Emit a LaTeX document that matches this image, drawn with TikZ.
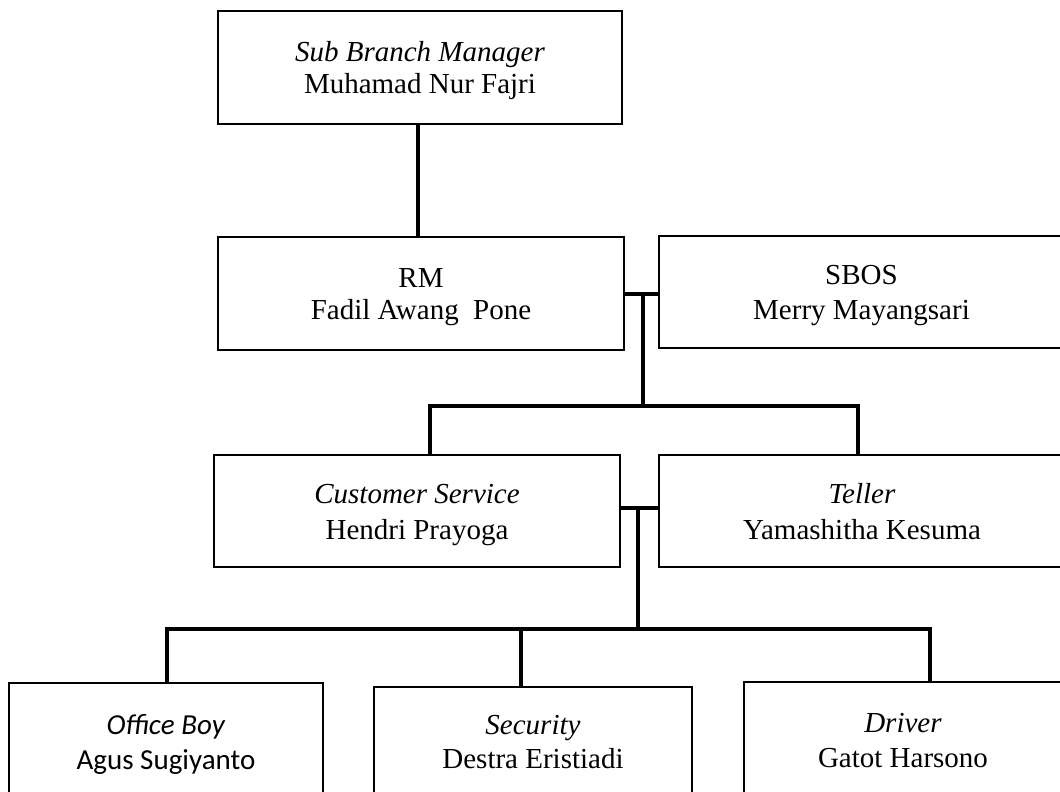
\documentclass[tikz,border=0pt]{standalone}
\usepackage{fontspec}
\setmainfont{Liberation Serif}
\newfontfamily\calibrifont{Carlito}
\newcommand\mytopstrut{\rule{0pt}{28bp}}
\newcommand\mybotstrut{\rule[-8bp]{0pt}{8bp}}
\begin{document}
\begin{tikzpicture}[x=1bp,y=-1bp,
  orgbox/.style={draw=black, line width=2.3bp, rectangle, inner sep=0pt, align=center, fill=white},
  sp/.style={font=\fontsize{29bp}{#1bp}\selectfont},
  conn/.style={draw=black, line width=3.2bp},
  connthick/.style={draw=black, line width=3.8bp}]
\useasboundingbox (0,0) rectangle (1060,792);
\clip (0,0) rectangle (1060,792);
\fill[white] (0,0) rectangle (1060,792);

% boxes
\node[orgbox, sp=32, minimum width=404bp, minimum height=113bp] (sbm) at (420,67.5)
  {\mytopstrut\textit{Sub Branch Manager}\\Muhamad Nur Fajri\mybotstrut};
\node[orgbox, sp=32.5, minimum width=406bp, minimum height=113bp] (rm) at (421,293.5)
  {\mytopstrut RM\\Fadil Awang~ Pone\mybotstrut};
\node[orgbox, sp=34.5, minimum width=405bp, minimum height=112bp] (sbos) at (861.5,292)
  {\mytopstrut SBOS\\Merry Mayangsari\mybotstrut};
\node[orgbox, sp=36, minimum width=406bp, minimum height=112bp] (cs) at (417,511)
  {\mytopstrut\textit{Customer Service}\\Hendri Prayoga\mybotstrut};
\node[orgbox, sp=36, minimum width=406bp, minimum height=112bp] (teller) at (862,511)
  {\mytopstrut\textit{Teller}\\Yamashitha Kesuma\mybotstrut};
\node[orgbox, font=\calibrifont\fontsize{29bp}{35bp}\selectfont, minimum width=314bp, minimum height=117bp] (ob) at (166,741.5)
  {\mytopstrut\textit{Office Boy}\\Agus Sugiyanto\mybotstrut};
\node[orgbox, sp=34, minimum width=318bp, minimum height=108bp] (sec) at (533,741)
  {\mytopstrut\textit{Security}\\Destra Eristiadi\mybotstrut};
\node[orgbox, sp=35, minimum width=318bp, minimum height=115bp] (drv) at (903,739.5)
  {\mytopstrut\textit{Driver}\\Gatot Harsono\mybotstrut};

% junction coordinates
\coordinate (j1) at (643,294);
\coordinate (b1) at (643,406);
\coordinate (b1l) at (430,406);
\coordinate (b1r) at (858,406);
\coordinate (j2) at (638,508);
\coordinate (b2) at (638,629);
\coordinate (b2l) at (167,629);
\coordinate (b2m) at (521,629);
\coordinate (b2r) at (930,629);

% connectors
\draw[connthick] (sbm.south -| 418,0) -- (rm.north -| 418,0);
\draw[connthick] (rm.east |- j1) -- (sbos.west |- j1);
\draw[connthick] (j1) -- (b1);
\draw[connthick] (b1l |- cs.north) -- (b1l) -- (b1r) -- (b1r |- teller.north);
\draw[conn] (cs.east |- j2) -- (teller.west |- j2);
\draw[conn] (j2) -- (b2);
\draw[conn] (b2l |- ob.north) -- (b2l) -- (b2r) -- (b2r |- drv.north);
\draw[conn] (b2m) -- (b2m |- sec.north);
\end{tikzpicture}
\end{document}
